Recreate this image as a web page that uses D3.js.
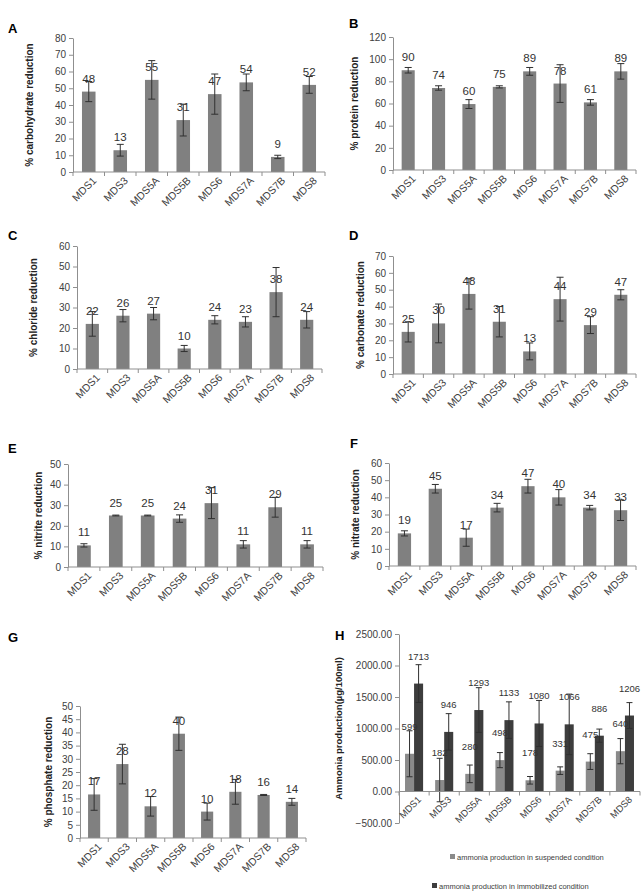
<!DOCTYPE html>
<html>
<head>
<meta charset="utf-8">
<script src="https://cdn.jsdelivr.net/npm/d3@7"></script>
<style>
  body { margin: 0; background: #fff; }
  svg { display: block; font-family: "Liberation Sans", Arial, sans-serif; }
</style>
</head>
<body>
<div id="chart"></div>
<script>
// strains on every x axis
const strains = ["MDS1", "MDS3", "MDS5A", "MDS5B", "MDS6", "MDS7A", "MDS7B", "MDS8"];

// A - carbohydrate
const carbohydrate = [48, 13, 55, 31, 46.5, 53.5, 9, 52];
const carbohydrateErr = [6, 3.5, 11.5, 9.5, 12, 5, 1, 5];
const carbohydrateTicks = [0, 10, 20, 30, 40, 50, 60, 70, 80];

// B - protein
const protein = [90, 74, 59.5, 75, 89, 78, 61, 89];
const proteinErr = [2.5, 2, 4, 1, 3.5, 17, 2.5, 7];
const proteinTicks = [0, 20, 40, 60, 80, 100, 120];

// C - chloride
const chloride = [22, 26, 27, 10, 24, 23, 37.5, 24];
const chlorideErr = [6, 3, 3, 1.5, 2, 2.5, 12, 4];
const chlorideTicks = [0, 10, 20, 30, 40, 50, 60];

// D - carbonate
const carbonate = [25, 30, 47.5, 31, 13.4, 44.4, 29, 47];
const carbonateErr = [6, 11.5, 9, 9, 5, 13, 5, 3];
const carbonateTicks = [0, 10, 20, 30, 40, 50, 60, 70];

// E - nitrite
const nitrite = [10.5, 25, 25, 23.5, 31, 11, 29, 11];
const nitriteErr = [0.8, 0.2, 0.2, 1.8, 7.5, 1.8, 4.8, 1.8];
const nitriteTicks = [0, 10, 20, 30, 40, 50];

// F - nitrate
const nitrate = [19, 45, 16.5, 34, 46.5, 40, 34, 32.5];
const nitrateErr = [1.5, 2.5, 5, 2.5, 4, 4.5, 1.3, 6];
const nitrateTicks = [0, 10, 20, 30, 40, 50, 60];

// G - phosphate
const phosphate = [16.5, 28, 12, 39.5, 10, 17.5, 16.3, 13.7];
const phosphateErr = [6, 7.5, 3.7, 6.3, 3.2, 4.7, 0.2, 1.3];
const phosphateTicks = [0, 5, 10, 15, 20, 25, 30, 35, 40, 45, 50];

// H - ammonia
const ammoniaSeries = ["ammonia production in suspended condition", "ammonia production in immobilized condition"];
const ammoniaSuspended = [599, 182, 280, 498, 178, 331, 475, 640];
const ammoniaSuspendedErr = [365, 345, 140, 120, 60, 60, 125, 200];
const ammoniaImmobilized = [1713, 946, 1293, 1133, 1080, 1066, 886, 1206];
const ammoniaImmobilizedErr = [300, 290, 355, 290, 365, 480, 105, 205];
const ammoniaTicks = [-500, 0, 500, 1000, 1500, 2000, 2500];

const svg = d3.select("#chart")
    .append("svg")
    .attr("width", 644)
    .attr("height", 895);

const axisColor = "#8f8f8f";
const textColor = "#404040";
const barColor = "#808080";
const errColor = "#303030";

const panels = [
    { letter: "A", title: "% carbohydrate reduction", values: carbohydrate, errors: carbohydrateErr, ticks: carbohydrateTicks,
      x0: 73, x1: 325, top: 38, bottom: 172, titleX: 29, lx: 8, ly: 33 },
    { letter: "B", title: "% protein reduction", values: protein, errors: proteinErr, ticks: proteinTicks,
      x0: 393, x1: 636, top: 37, bottom: 170, titleX: 354, lx: 349, ly: 28 },
    { letter: "C", title: "% chloride reduction", values: chloride, errors: chlorideErr, ticks: chlorideTicks,
      x0: 77, x1: 322, top: 246, bottom: 369, titleX: 33, lx: 8, ly: 240 },
    { letter: "D", title: "% carbonate reduction", values: carbonate, errors: carbonateErr, ticks: carbonateTicks,
      x0: 393, x1: 636, top: 256, bottom: 374, titleX: 360, lx: 349, ly: 240 },
    { letter: "E", title: "% nitrite reduction", values: nitrite, errors: nitriteErr, ticks: nitriteTicks,
      x0: 68, x1: 323, top: 464, bottom: 567, titleX: 38, lx: 8, ly: 453 },
    { letter: "F", title: "% nitrate reduction", values: nitrate, errors: nitrateErr, ticks: nitrateTicks,
      x0: 389, x1: 636, top: 463, bottom: 566, titleX: 355, lx: 350, ly: 448 },
    { letter: "G", title: "% phosphate reduction", values: phosphate, errors: phosphateErr, ticks: phosphateTicks,
      x0: 80, x1: 306, top: 706, bottom: 838, titleX: 48, lx: 8, ly: 642 }
];

function styleAxis(g) {
    g.select(".domain").attr("stroke", axisColor);
    g.selectAll(".tick line").attr("stroke", axisColor);
    g.selectAll(".tick text").attr("fill", textColor);
}

function categoryAxis(x, y0, x0, x1, fontSize) {
    svg.append("line")
        .attr("x1", x0).attr("x2", x1)
        .attr("y1", y0).attr("y2", y0)
        .attr("stroke", axisColor);
    // excel style ticks between categories
    svg.append("g").selectAll("line")
        .data(d3.range(strains.length + 1))
        .join("line")
        .attr("x1", i => x0 + i * x.step()).attr("x2", i => x0 + i * x.step())
        .attr("y1", y0).attr("y2", y0 + 4)
        .attr("stroke", axisColor);
    svg.append("g").selectAll("text")
        .data(strains)
        .join("text")
        .attr("transform", d => `translate(${x(d) + x.bandwidth() / 2 + 3},${y0 + 4}) rotate(-45)`)
        .attr("text-anchor", "end")
        .attr("dy", "0.71em")
        .attr("font-size", fontSize)
        .attr("fill", textColor)
        .text(d => d);
}

function errorBars(cx, v, e, y, cap) {
    const g = svg.append("g").attr("stroke", errColor).attr("stroke-width", 1);
    g.append("line").attr("x1", cx).attr("x2", cx).attr("y1", y(v + e)).attr("y2", y(v - e));
    g.append("line").attr("x1", cx - cap).attr("x2", cx + cap).attr("y1", y(v + e)).attr("y2", y(v + e));
    g.append("line").attr("x1", cx - cap).attr("x2", cx + cap).attr("y1", y(v - e)).attr("y2", y(v - e));
}

function drawPanel(p) {
    const x = d3.scaleBand().domain(strains).range([p.x0, p.x1])
        .paddingInner(0.57).paddingOuter(0.285);
    const y = d3.scaleLinear()
        .domain([p.ticks[0], p.ticks[p.ticks.length - 1]])
        .range([p.bottom, p.top]);

    svg.append("g")
        .attr("transform", `translate(${p.x0},0)`)
        .attr("font-size", 11)
        .call(d3.axisLeft(y).tickValues(p.ticks).tickSize(4).tickSizeOuter(0).tickPadding(3))
        .call(styleAxis)
        .attr("font-family", null);

    // bars
    svg.append("g").selectAll("rect")
        .data(strains)
        .join("rect")
        .attr("x", d => x(d))
        .attr("width", x.bandwidth())
        .attr("y", (d, i) => y(p.values[i]))
        .attr("height", (d, i) => y(0) - y(p.values[i]))
        .attr("fill", barColor);

    strains.forEach((d, i) => errorBars(x(d) + x.bandwidth() / 2, p.values[i], p.errors[i], y, 3.5));

    // value labels
    svg.append("g").selectAll("text")
        .data(strains)
        .join("text")
        .attr("x", d => x(d) + x.bandwidth() / 2)
        .attr("y", (d, i) => y(p.values[i]) - 9)
        .attr("text-anchor", "middle")
        .attr("font-size", 11.5)
        .attr("fill", "#333")
        .text((d, i) => Math.round(p.values[i]));

    categoryAxis(x, y(0), p.x0, p.x1, 10.5);

    svg.append("text")
        .attr("transform", `translate(${p.titleX},${(p.top + p.bottom) / 2}) rotate(-90)`)
        .attr("text-anchor", "middle")
        .attr("dy", "0.35em")
        .attr("font-size", 10)
        .attr("font-weight", "bold")
        .attr("fill", "#222")
        .text(p.title);

    svg.append("text")
        .attr("x", p.lx).attr("y", p.ly)
        .attr("font-size", 13)
        .attr("font-weight", "bold")
        .attr("fill", "#000")
        .text(p.letter);
}

panels.forEach(drawPanel);

// H - grouped ammonia chart
function drawAmmonia() {
    const x0 = 399, x1 = 640, top = 634, bottom = 823;
    const x = d3.scaleBand().domain(strains).range([x0, x1])
        .paddingInner(0.4).paddingOuter(0.2);
    const sub = d3.scaleBand().domain([0, 1]).range([0, x.bandwidth()]);
    const y = d3.scaleLinear()
        .domain([ammoniaTicks[0], ammoniaTicks[ammoniaTicks.length - 1]])
        .range([bottom, top]);

    svg.append("g")
        .attr("transform", `translate(${x0},0)`)
        .attr("font-size", 8.5)
        .call(d3.axisLeft(y).tickValues(ammoniaTicks).tickSize(4).tickSizeOuter(0).tickPadding(3)
            .tickFormat(d3.format(".2f")))
        .call(styleAxis)
        .attr("font-family", null);

    const series = [
        { values: ammoniaSuspended, errors: ammoniaSuspendedErr, color: "#8a8a8a" },
        { values: ammoniaImmobilized, errors: ammoniaImmobilizedErr, color: "#3d3d3d" }
    ];

    series.forEach((s, k) => {
        svg.append("g").selectAll("rect")
            .data(strains)
            .join("rect")
            .attr("x", d => x(d) + sub(k))
            .attr("width", sub.bandwidth())
            .attr("y", (d, i) => y(s.values[i]))
            .attr("height", (d, i) => y(0) - y(s.values[i]))
            .attr("fill", s.color);
    });

    series.forEach((s, k) => {
        strains.forEach((d, i) => errorBars(x(d) + sub(k) + sub.bandwidth() / 2, s.values[i], s.errors[i], y, 3));
        svg.append("g").selectAll("text")
            .data(strains)
            .join("text")
            .attr("x", d => x(d) + sub(k) + sub.bandwidth() / 2)
            .attr("y", (d, i) => y(s.values[i]) - 24)
            .attr("text-anchor", "middle")
            .attr("font-size", 9.5)
            .attr("fill", "#333")
            .text((d, i) => s.values[i]);
    });

    categoryAxis(x, y(0), x0, x1, 9.5);

    svg.append("text")
        .attr("transform", `translate(339,${(top + bottom) / 2}) rotate(-90)`)
        .attr("text-anchor", "middle")
        .attr("dy", "0.35em")
        .attr("font-size", 9.5)
        .attr("font-weight", "bold")
        .attr("fill", "#222")
        .text("Ammonia production(µg/100ml)");

    svg.append("text")
        .attr("x", 335).attr("y", 640)
        .attr("font-size", 13)
        .attr("font-weight", "bold")
        .attr("fill", "#000")
        .text("H");

    // legend
    const legendPos = [[453, 857], [435, 886]];
    ammoniaSeries.forEach((name, k) => {
        const [lx, ly] = legendPos[k];
        svg.append("rect")
            .attr("x", lx - 3).attr("y", ly - 3)
            .attr("width", 5).attr("height", 5)
            .attr("fill", series[k].color);
        svg.append("text")
            .attr("x", lx + 4).attr("y", ly)
            .attr("dy", "0.35em")
            .attr("font-size", 7.5)
            .attr("fill", textColor)
            .text(name);
    });
}

drawAmmonia();
</script>
</body>
</html>
